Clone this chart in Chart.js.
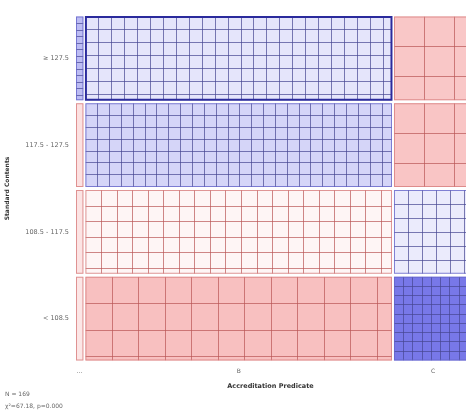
<!DOCTYPE html>
<html>
<head>
<meta charset="utf-8">
<script src="https://cdn.jsdelivr.net/npm/chart.js@4.4.1/dist/chart.umd.min.js"></script>
<style>
  html, body { margin: 0; background: #fff; }
  #wrap { width: 466px; height: 410px; }
</style>
</head>
<body>
<div id="wrap"><canvas id="mosaic"></canvas></div>
<script>
// rows top to bottom, columns left to right
const rowLabels = ['≥ 127.5', '117.5 - 127.5', '108.5 - 117.5', '< 108.5']
const colLabels = ['...', 'B', 'C']

// observed counts per column (same row order as rowLabels)
const countsDots = [4, 0, 0, 0]
const countsB = [42, 50, 29, 10]
const countsC = [2, 2, 9, 21]

const highlightCell = { col: 'B', row: '≥ 127.5' }
const statsText = 'χ²=67.18, p=0.000'

const columns = [countsDots, countsB, countsC]
const colTotals = columns.map(c => c.reduce((a, b) => a + b, 0))
const N = colTotals.reduce((a, b) => a + b, 0)
const rowTotals = rowLabels.map((_, r) => columns.reduce((a, c) => a + c[r], 0))

// column edges in count units (cumulative)
const colStarts = []
colTotals.reduce((acc, t) => { colStarts.push(acc); return acc + t }, 0)
const colCenters = colStarts.map((s, i) => s + colTotals[i] / 2)

function residual(c, r) {
  const e = rowTotals[r] * colTotals[c] / N
  return (columns[c][r] - e) / Math.sqrt(e)
}

function mix(base, t) {
  t = Math.max(0, Math.min(0.85, t))
  const ch = base.map(v => Math.round(255 - (255 - v) * t))
  return `rgb(${ch[0]},${ch[1]},${ch[2]})`
}

function cellStyle(res) {
  const t = 0.06 + Math.abs(res) / 7.5
  if (res >= 0) {
    return { fill: mix([96, 96, 228], t), line: 'rgba(70,70,145,0.7)', edge: 'rgba(100,100,200,0.8)' }
  }
  return { fill: mix([240, 112, 112], t), line: 'rgba(185,85,85,0.7)', edge: 'rgba(215,125,125,0.8)' }
}

const mosaicPlugin = {
  id: 'mosaic',
  beforeDatasetsDraw(chart) {
    const { ctx, chartArea, scales: { x, y } } = chart
    const half = Math.abs(y.getPixelForValue(1) - y.getPixelForValue(0)) / 2
    ctx.save()
    ctx.beginPath()
    ctx.rect(chartArea.left, chartArea.top, chartArea.right - chartArea.left + 1, chartArea.bottom - chartArea.top)
    ctx.clip()
    columns.forEach((col, c) => {
      const x0 = x.getPixelForValue(colStarts[c]) + 1
      const x1 = x.getPixelForValue(colStarts[c] + colTotals[c]) - 1
      col.forEach((count, r) => {
        const yc = y.getPixelForValue(r)
        const y0 = yc - half + 1.5
        const y1 = yc + half - 1.5
        const w = x1 - x0, h = y1 - y0
        const st = cellStyle(residual(c, r))
        ctx.fillStyle = st.fill
        ctx.fillRect(x0, y0, w, h)
        // tile grid: denser for higher counts
        if (count > 0) {
          const s = Math.sqrt((w * h) / (count * 3.66))
          ctx.save()
          ctx.beginPath()
          ctx.rect(x0, y0, w, h)
          ctx.clip()
          ctx.strokeStyle = st.line
          ctx.lineWidth = 1
          ctx.beginPath()
          for (let gx = x0 + s; gx < x1 - 2; gx += s) {
            ctx.moveTo(Math.round(gx) + 0.5, y0)
            ctx.lineTo(Math.round(gx) + 0.5, y1)
          }
          for (let gy = y0 + s; gy < y1 - 2; gy += s) {
            ctx.moveTo(x0, Math.round(gy) + 0.5)
            ctx.lineTo(x1, Math.round(gy) + 0.5)
          }
          ctx.stroke()
          ctx.restore()
        }
        const isHi = colLabels[c] === highlightCell.col && rowLabels[r] === highlightCell.row
        ctx.strokeStyle = isHi ? '#2a2a9c' : st.edge
        ctx.lineWidth = isHi ? 2 : 1
        ctx.strokeRect(x0 + 0.5, y0 + 0.5, w - 1, h - 1)
      })
    })
    ctx.restore()
  },
  afterDraw(chart) {
    const { ctx } = chart
    ctx.save()
    ctx.fillStyle = '#666'
    ctx.font = '6px "DejaVu Sans"'
    ctx.textBaseline = 'middle'
    ctx.fillText('N = ' + N, 5, 394)
    ctx.fillText(statsText, 5, 406)
    ctx.restore()
  }
}

new Chart(document.getElementById('mosaic'), {
  type: 'scatter',
  data: { datasets: [{ data: [] }] },
  options: {
    responsive: true,
    maintainAspectRatio: false,
    animation: false,
    layout: { padding: { left: 2, top: 15, right: 0, bottom: 20 } },
    plugins: { legend: { display: false }, tooltip: { enabled: false } },
    scales: {
      x: {
        type: 'linear',
        min: 0,
        max: 166,  // the right end of column C runs off the picture
        grid: { display: false, drawTicks: false },
        border: { display: false },
        afterBuildTicks: scale => { scale.ticks = colCenters.map(v => ({ value: v })) },
        afterFit: scale => { scale.height = 28 },
        ticks: {
          autoSkip: false,
          maxRotation: 0,
          padding: 6,
          color: '#666',
          font: { family: 'DejaVu Sans', size: 6 },
          callback: (value) => colLabels[colCenters.indexOf(value)]
        },
        title: {
          display: true,
          text: 'Accreditation Predicate',
          color: '#333',
          padding: { top: 2, bottom: 0 },
          font: { family: 'DejaVu Sans', size: 6.5, weight: 'bold' }
        }
      },
      y: {
        type: 'category',
        labels: rowLabels,
        offset: true,
        grid: { display: false, drawTicks: false },
        border: { display: false },
        afterFit: scale => { scale.width = 73 },
        ticks: {
          padding: 6,
          color: '#666',
          font: { family: 'DejaVu Sans', size: 6.5 }
        },
        title: {
          display: true,
          text: 'Standard Contents',
          color: '#333',
          padding: { top: 2, bottom: 0 },
          font: { family: 'DejaVu Sans', size: 6, weight: 'bold' }
        }
      }
    }
  },
  plugins: [mosaicPlugin]
})
</script>
</body>
</html>
